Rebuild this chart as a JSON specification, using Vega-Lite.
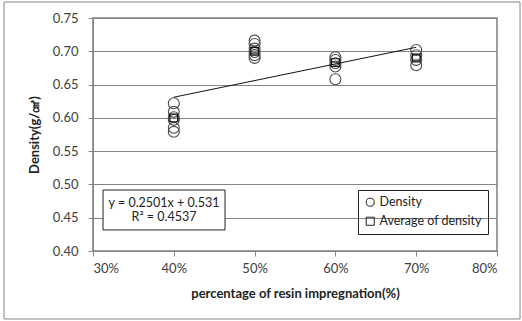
{
  "$schema": "https://vega.github.io/schema/vega-lite/v6.json",
  "width": 404,
  "height": 233,
  "autosize": {"type": "none"},
  "padding": {"left": 93, "top": 18, "right": 25, "bottom": 70},
  "background": "white",
  "config": {
    "font": "Lato",
    "view": {"stroke": "#7f7f7f", "strokeWidth": 1.5},
    "axis": {
      "labelFont": "Lato", "labelFontSize": 13, "labelColor": "#404040",
      "titleFont": "Lato", "titleFontSize": 13, "titleFontWeight": "bold", "titleColor": "#222222",
      "domainColor": "#868686", "tickColor": "#868686", "gridColor": "#868686", "tickSize": 5,
      "labelOverlap": false
    },
    "legend": {"labelFont": "Lato", "labelFontSize": 12.5, "labelColor": "#222222"}
  },
  "datasets": {
    "frame": [{"x1": 0.1899, "x2": 0.8285, "y1": 0.7740, "y2": 0.2979}],
    "eqbox": [{"x1": 0.3124, "x2": 0.4634, "y1": 0.4916, "y2": 0.4316}],
    "eqtext": [
      {"x": 0.3879, "y": 0.4721, "t": "y = 0.2501x + 0.531"},
      {"x": 0.3879, "y": 0.4511, "t": "R² = 0.4537"}
    ],
    "density": [
      {"p": 0.4, "d": 0.622, "s": "Density"},
      {"p": 0.4, "d": 0.609, "s": "Density"},
      {"p": 0.4, "d": 0.601, "s": "Density"},
      {"p": 0.4, "d": 0.597, "s": "Density"},
      {"p": 0.4, "d": 0.585, "s": "Density"},
      {"p": 0.4, "d": 0.579, "s": "Density"},
      {"p": 0.5, "d": 0.716, "s": "Density"},
      {"p": 0.5, "d": 0.711, "s": "Density"},
      {"p": 0.5, "d": 0.704, "s": "Density"},
      {"p": 0.5, "d": 0.699, "s": "Density"},
      {"p": 0.5, "d": 0.694, "s": "Density"},
      {"p": 0.5, "d": 0.690, "s": "Density"},
      {"p": 0.6, "d": 0.691, "s": "Density"},
      {"p": 0.6, "d": 0.687, "s": "Density"},
      {"p": 0.6, "d": 0.682, "s": "Density"},
      {"p": 0.6, "d": 0.677, "s": "Density"},
      {"p": 0.6, "d": 0.658, "s": "Density"},
      {"p": 0.7, "d": 0.702, "s": "Density"},
      {"p": 0.7, "d": 0.694, "s": "Density"},
      {"p": 0.7, "d": 0.687, "s": "Density"},
      {"p": 0.7, "d": 0.679, "s": "Density"}
    ],
    "average": [
      {"p": 0.4, "d": 0.600, "s": "Average of density"},
      {"p": 0.5, "d": 0.700, "s": "Average of density"},
      {"p": 0.6, "d": 0.683, "s": "Average of density"},
      {"p": 0.7, "d": 0.690, "s": "Average of density"}
    ],
    "trend": [
      {"p": 0.4, "d": 0.631},
      {"p": 0.7, "d": 0.706}
    ]
  },
  "encoding": {
    "x": {
      "field": "p", "type": "quantitative",
      "scale": {"domain": [0.3, 0.8], "nice": false, "zero": false},
      "axis": {"format": ".0%", "values": [0.3, 0.4, 0.5, 0.6, 0.7, 0.8], "grid": false, "title": "percentage of resin impregnation(%)", "titlePadding": 12, "labelPadding": 6}
    },
    "y": {
      "field": "d", "type": "quantitative",
      "scale": {"domain": [0.4, 0.75], "nice": false, "zero": false},
      "axis": {"format": ".2f", "values": [0.4, 0.45, 0.5, 0.55, 0.6, 0.65, 0.7, 0.75], "tickCount": 8, "grid": true, "title": "Density(g/㎤)", "titlePadding": 11, "labelPadding": 10}
    }
  },
  "layer": [
    {
      "data": {"name": "frame"},
      "mark": {"type": "rect", "fill": null, "stroke": "#868686", "strokeWidth": 1, "clip": false},
      "encoding": {
        "x": {"field": "x1", "type": "quantitative"},
        "x2": {"field": "x2"},
        "y": {"field": "y1", "type": "quantitative"},
        "y2": {"field": "y2"}
      }
    },
    {
      "data": {"name": "density"},
      "mark": {"type": "point", "filled": false, "strokeWidth": 1.1, "opacity": 1, "size": 120, "color": "#4a4a4a"},
      "encoding": {
        "shape": {
          "field": "s", "type": "nominal",
          "scale": {"domain": ["Density", "Average of density"], "range": ["circle", "square"]},
          "legend": {
            "title": null, "orient": "none", "legendX": 265, "legendY": 172,
            "strokeColor": "#222222", "padding": 6, "rowPadding": 6, "symbolSize": 65,
            "symbolStrokeColor": "#222222", "symbolStrokeWidth": 1, "symbolFillColor": "transparent", "symbolType": "circle", "labelOffset": 3
          }
        }
      }
    },
    {
      "data": {"name": "average"},
      "mark": {"type": "point", "filled": false, "strokeWidth": 1.2, "opacity": 1, "size": 60, "color": "#111111"},
      "encoding": {
        "shape": {"field": "s", "type": "nominal"}
      }
    },
    {
      "data": {"name": "trend"},
      "mark": {"type": "line", "color": "#111111", "strokeWidth": 1},
      "encoding": {}
    },
    {
      "data": {"name": "eqbox"},
      "mark": {"type": "rect", "fill": "white", "stroke": "#222222", "strokeWidth": 1},
      "encoding": {
        "x": {"field": "x1", "type": "quantitative"},
        "x2": {"field": "x2"},
        "y": {"field": "y1", "type": "quantitative"},
        "y2": {"field": "y2"}
      }
    },
    {
      "data": {"name": "eqtext"},
      "mark": {"type": "text", "font": "Lato", "fontSize": 12.5, "color": "#222222", "align": "center", "baseline": "middle"},
      "encoding": {
        "x": {"field": "x", "type": "quantitative"},
        "y": {"field": "y", "type": "quantitative"},
        "text": {"field": "t"}
      }
    }
  ]
}
